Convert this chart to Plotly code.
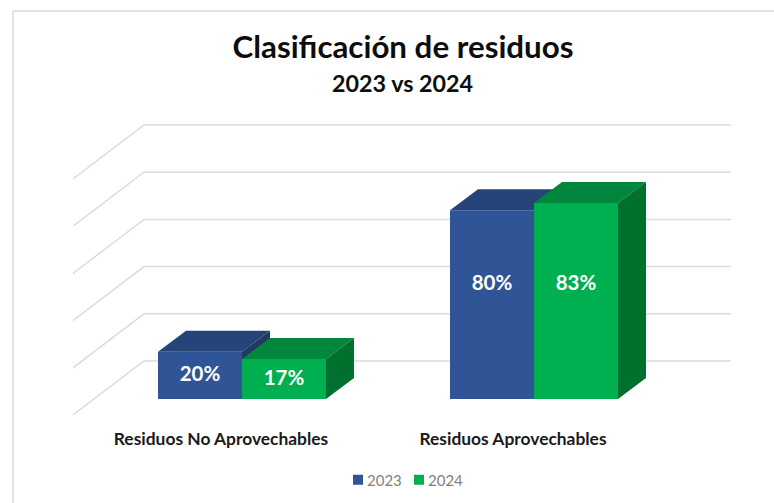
import plotly.graph_objects as go

categories = ["Residuos No Aprovechables", "Residuos Aprovechables"]
series_names = ["2023", "2024"]
values_2023 = [20, 80]
values_2024 = [17, 83]
label_heights_2023 = [9.7, 48.4]
label_heights_2024 = [8.2, 48.4]
wall_ticks = [0, 20, 40, 60, 80, 100]

W, H = 774, 503
L, R, T, B = 73, 731, 120, 418      # plot area in pixels
PX_X = 292.0                         # pixels per category
PX_Y = 2.36                          # pixels per percent
X0_PX, Y0_PX = 242, 399              # pixel of category 0 / value 0
bar_w = 84 / PX_X
depth_x, depth_y = 28 / PX_X, 21 / PX_Y
wall_x0, wall_x1 = (73 - X0_PX) / PX_X, (144 - X0_PX) / PX_X
wall_lift = (Y0_PX - 361) / PX_Y
wall_drop = 54 / PX_Y
label_shift = -21 / PX_X

FONT = "Lato"
BLUE = dict(front="#2F5597", top="#264478", side="#1F3864")
GREEN = dict(front="#00B050", top="#00863D", side="#00702F")

xr = [(L - X0_PX) / PX_X, (R - X0_PX) / PX_X]
yr = [(Y0_PX - B) / PX_Y, (Y0_PX - T) / PX_Y]
xdom = [L / W, R / W]
ydom = [1 - B / H, 1 - T / H]
xs = [0, 1]
fig = go.Figure()

# receding wall grid
for v in wall_ticks:
    fig.add_trace(go.Scatter(
        x=[wall_x0, wall_x1, xr[1]],
        y=[v + wall_lift - wall_drop, v + wall_lift, v + wall_lift],
        mode="lines", line=dict(color="#DCDCDC", width=1.5),
        showlegend=False, hoverinfo="skip", cliponaxis=False))


def add_series(name, values, offset, pal, xa, ya):
    fig.add_trace(go.Bar(x=xs, y=values, width=bar_w, offset=offset, name=name,
                         marker=dict(color=pal["front"], line=dict(width=0)),
                         xaxis=xa, yaxis=ya))
    for x, v in zip(xs, values):
        a, b = x + offset, x + offset + bar_w
        fig.add_trace(go.Scatter(
            x=[a, a + depth_x, b + depth_x, b, a],
            y=[v, v + depth_y, v + depth_y, v, v],
            mode="lines", fill="toself", fillcolor=pal["top"], line=dict(width=0),
            showlegend=False, hoverinfo="skip", xaxis=xa, yaxis=ya, cliponaxis=False))
        fig.add_trace(go.Scatter(
            x=[b, b + depth_x, b + depth_x, b, b],
            y=[0, depth_y, v + depth_y, v, 0],
            mode="lines", fill="toself", fillcolor=pal["side"], line=dict(width=0),
            showlegend=False, hoverinfo="skip", xaxis=xa, yaxis=ya, cliponaxis=False))


add_series(series_names[0], values_2023, -bar_w, BLUE, "x2", "y2")
add_series(series_names[1], values_2024, 0, GREEN, "x3", "y3")

fig.add_trace(go.Scatter(
    x=[x - bar_w / 2 for x in xs] + [x + bar_w / 2 for x in xs],
    y=label_heights_2023 + label_heights_2024,
    text=[f"<b>{v}%</b>" for v in values_2023 + values_2024],
    mode="text", textfont=dict(family=FONT, size=20.5, color="white"),
    textposition="middle center", showlegend=False, hoverinfo="skip",
    xaxis="x3", yaxis="y3"))

hidden = dict(visible=False, fixedrange=True)
fig.update_layout(
    width=W, height=H, autosize=False,
    margin=dict(l=0, r=0, t=0, b=0),
    paper_bgcolor="white", plot_bgcolor="white",
    barmode="overlay",
    showlegend=True,
    font=dict(family=FONT),
    title=dict(text="<b>Clasificación de residuos</b>", x=403 / W, xanchor="center",
               y=1 - 47 / H, yanchor="middle", font=dict(family=FONT, size=31.3, color="#0D0D0D")),
    xaxis=dict(domain=xdom, range=xr, tickvals=[x + label_shift for x in xs],
               ticktext=[f"<b>{c}</b>" for c in categories],
               showgrid=False, zeroline=False, showline=False, ticks="outside", ticklen=5,
               tickcolor="rgba(0,0,0,0)", tickfont=dict(family=FONT, size=17.4, color="#1A1A1A")),
    yaxis=dict(domain=ydom, range=yr, visible=False),
    xaxis2=dict(domain=xdom, range=xr, overlaying="x", **hidden),
    yaxis2=dict(domain=ydom, range=yr, overlaying="y", **hidden),
    xaxis3=dict(domain=xdom, range=xr, overlaying="x", **hidden),
    yaxis3=dict(domain=ydom, range=yr, overlaying="y", **hidden),
    legend=dict(orientation="h", x=338 / W, xanchor="left",
                y=1 - 480 / H, yanchor="middle",
                font=dict(family=FONT, size=15, color="#7F7F7F"),
                entrywidth=16, entrywidthmode="pixels", bgcolor="rgba(0,0,0,0)"),
    annotations=[dict(text="<b>2023 vs 2024</b>", xref="paper", yref="paper",
                      x=403 / W, y=1 - 83 / H, xanchor="center", yanchor="middle",
                      showarrow=False, font=dict(family=FONT, size=23.3, color="#0D0D0D"))],
    shapes=[dict(type="line", xref="paper", yref="paper",
                 x0=13 / W, x1=1, y0=1 - 11 / H, y1=1 - 11 / H,
                 line=dict(color="#D9D9D9", width=1.5)),
            dict(type="line", xref="paper", yref="paper",
                 x0=13 / W, x1=13 / W, y0=1 - 11 / H, y1=0,
                 line=dict(color="#D9D9D9", width=1.5))],
)
post = """
document.body.style.margin='0';document.body.style.overflow='hidden';
document.querySelectorAll('.legend .scrollbox').forEach(function(n){n.removeAttribute('clip-path');});
document.querySelectorAll('.legend .legendtext').forEach(function(t){t.setAttribute('x', parseFloat(t.getAttribute('x'))-11);});
document.querySelectorAll('.legend .legendbar path, .legend .legendpoints path').forEach(function(p){p.setAttribute('d','M5,5H-5V-5H5Z');});
"""
fig.write_html("out.html", post_script=post, config=dict(displayModeBar=False))
